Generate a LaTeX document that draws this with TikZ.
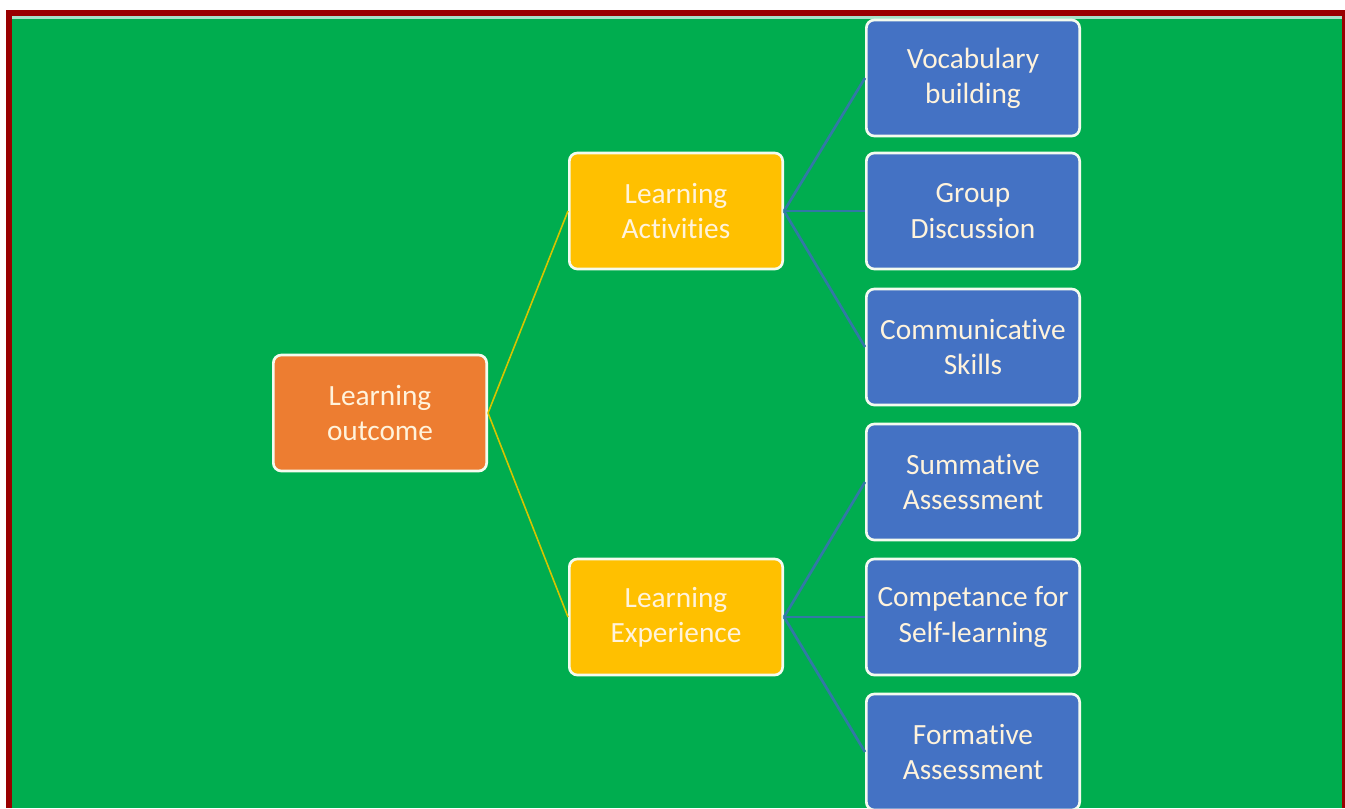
\documentclass[tikz,border=0pt]{standalone}
\usepackage{fontspec}
\setmainfont{Carlito}[Ligatures=NoCommon]
\usepackage{tikz}
\usetikzlibrary{positioning}
\usepackage{xcolor}
\definecolor{Frame}{HTML}{990000}
\definecolor{Field}{HTML}{00AD4F}
\definecolor{Haze}{HTML}{A6E3C9}
\definecolor{Root}{HTML}{ED7D31}
\definecolor{Gold}{HTML}{FFC000}
\definecolor{Leaf}{HTML}{4472C4}
\definecolor{Rim}{HTML}{F4FBEF}
\definecolor{Ink}{HTML}{FFF3DC}
\definecolor{Twig}{HTML}{D6C400}
\definecolor{Branch}{HTML}{3279A6}

\tikzset{
  box/.style={draw=Rim, line width=2pt, rounded corners=6pt, text=Ink,
    align=center, minimum width=160pt, minimum height=87pt,
    font=\fontsize{22}{26.5}\selectfont},
  rootbox/.style={box, fill=Root},
  midbox/.style={box, fill=Gold},
  leafbox/.style={box, fill=Leaf},
}

\begin{document}
\begin{tikzpicture}[x=0.75pt, y=-0.75pt]
  \useasboundingbox (0,0) rectangle (1345,808);
  % frame and field
  \fill[white] (0,0) rectangle (1345,808);
  \fill[Frame] (6,10) rectangle (1345,808);
  \fill[Field] (12,16) rectangle (1342,808);
  \fill[Haze] (12,16) rectangle (1342,18.5);

  \node[rootbox] (outcome) at (380,413) {Learning\\outcome};
  \node[midbox] (activities) at (676,211) {Learning\\Activities};
  \node[midbox] (experience) at (676,617) {Learning\\Experience};

  \node[leafbox] (vocab) at (973,78) {Vocabulary\\building};
  \node[leafbox] (discussion) at (973,211) {Group\\Discussion};
  \node[leafbox] (skills) at (973,347) {Communicative\\Skills};
  \node[leafbox] (summative) at (973,482) {Summative\\Assessment};
  \node[leafbox] (selflearn) at (973,617) {Competance for\\Self-learning};
  \node[leafbox] (formative) at (973,752) {Formative\\Assessment};

  \foreach \m in {activities, experience}
    \draw[Twig, line width=1.2pt] (outcome.east) -- (\m.west);
  \foreach \l in {vocab, discussion, skills}
    \draw[Branch, line width=2pt] (activities.east) -- (\l.west);
  \foreach \l in {summative, selflearn, formative}
    \draw[Branch, line width=2pt] (experience.east) -- (\l.west);
\end{tikzpicture}
\end{document}
